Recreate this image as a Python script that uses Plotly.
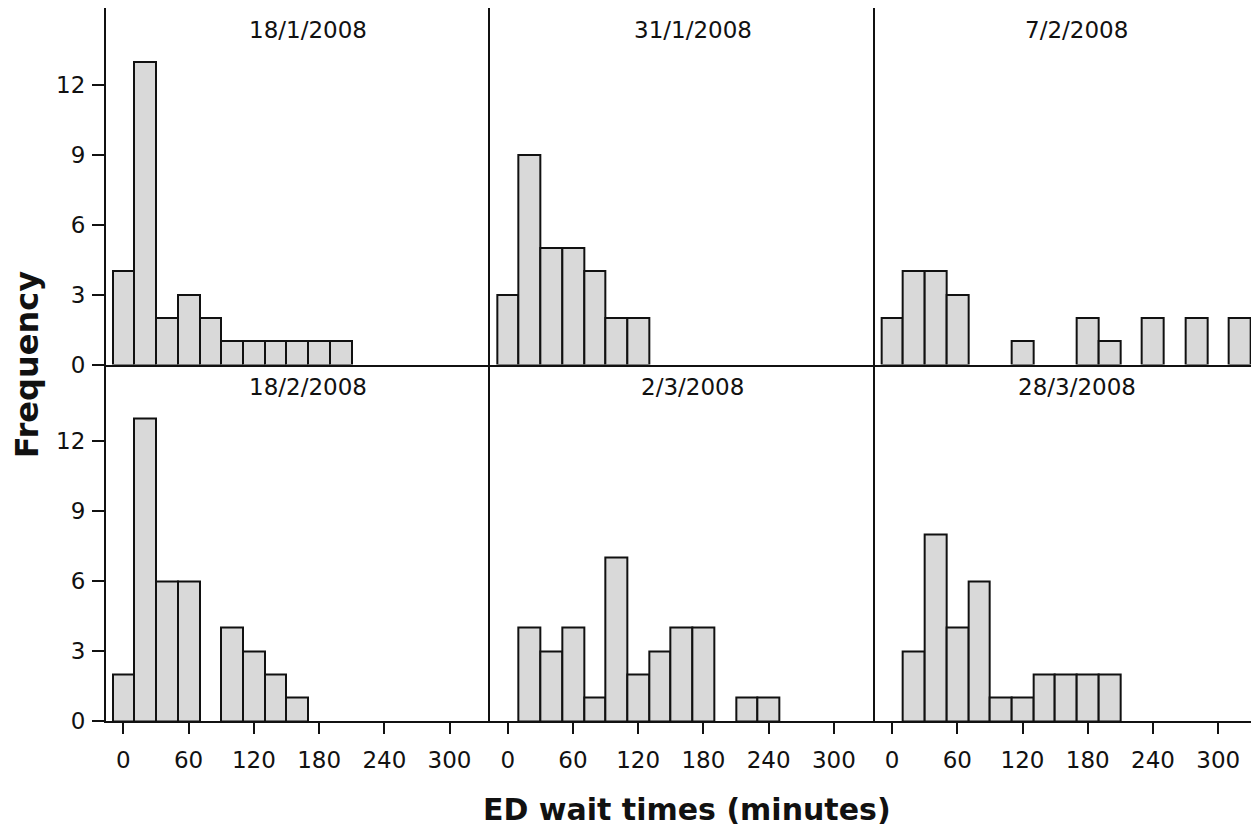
import plotly.graph_objects as go
from plotly.subplots import make_subplots

# ---- data (bin centres in minutes, frequencies) ----
dates = ["18/1/2008", "31/1/2008", "7/2/2008", "18/2/2008", "2/3/2008", "28/3/2008"]

bins_18_1 = [0, 20, 40, 60, 80, 100, 120, 140, 160, 180, 200]
freq_18_1 = [4, 13, 2, 3, 2, 1, 1, 1, 1, 1, 1]

bins_31_1 = [0, 20, 40, 60, 80, 100, 120]
freq_31_1 = [3, 9, 5, 5, 4, 2, 2]

bins_7_2 = [0, 20, 40, 60, 120, 180, 200, 240, 280, 320]
freq_7_2 = [2, 4, 4, 3, 1, 2, 1, 2, 2, 2]

bins_18_2 = [0, 20, 40, 60, 100, 120, 140, 160]
freq_18_2 = [2, 13, 6, 6, 4, 3, 2, 1]

bins_2_3 = [20, 40, 60, 80, 100, 120, 140, 160, 180, 220, 240]
freq_2_3 = [4, 3, 4, 1, 7, 2, 3, 4, 4, 1, 1]

bins_28_3 = [20, 40, 60, 80, 100, 120, 140, 160, 180, 200]
freq_28_3 = [3, 8, 4, 6, 1, 1, 2, 2, 2, 2]

bin_width = 20
x_ticks = [0, 60, 120, 180, 240, 300]
y_ticks = [0, 3, 6, 9, 12]

panels = [
    (bins_18_1, freq_18_1), (bins_31_1, freq_31_1), (bins_7_2, freq_7_2),
    (bins_18_2, freq_18_2), (bins_2_3, freq_2_3), (bins_28_3, freq_28_3),
]

FONT = "DejaVu Sans"
INK = "#111111"

fig = make_subplots(rows=2, cols=3, horizontal_spacing=0, vertical_spacing=0)

for i, (bx, fy) in enumerate(panels):
    r, c = i // 3 + 1, i % 3 + 1
    fig.add_trace(
        go.Bar(x=bx, y=fy, width=bin_width,
               marker=dict(color="#d9d9d9", line=dict(color=INK, width=2)),
               showlegend=False, hoverinfo="x+y"),
        row=r, col=c)
    fig.add_annotation(
        text=dates[i], x=170, y=1, xref=f"x{i+1 if i else ''}",
        yref=f"y{i+1 if i else ''} domain", xanchor="center", yanchor="middle",
        yshift=-22, showarrow=False, font=dict(family=FONT, size=23, color=INK))

for r in (1, 2):
    for c in (1, 2, 3):
        xa = dict(range=[-16, 337.5], showgrid=False, zeroline=False,
                  showline=True, linecolor=INK, linewidth=2,
                  tickvals=x_ticks, fixedrange=True)
        if r == 2:
            xa.update(ticks="outside", ticklen=11, tickwidth=2, tickcolor=INK,
                      showticklabels=True, ticklabelstandoff=6,
                      tickfont=dict(family=FONT, size=23, color=INK))
        else:
            xa.update(ticks="", showticklabels=False)
        fig.update_xaxes(row=r, col=c, **xa)

        ya = dict(range=[0, 15.3], showgrid=False, zeroline=False,
                  showline=True, linecolor=INK, linewidth=2,
                  tickvals=y_ticks, fixedrange=True)
        if c == 1:
            ya.update(ticks="outside", ticklen=12, tickwidth=2, tickcolor=INK,
                      showticklabels=True, ticklabelstandoff=2,
                      tickfont=dict(family=FONT, size=23, color=INK))
        else:
            ya.update(ticks="", showticklabels=False)
        fig.update_yaxes(row=r, col=c, **ya)

fig.add_annotation(text="<b>Frequency</b>", xref="paper", yref="paper",
                   x=-0.0685, y=0.499, textangle=-90, showarrow=False,
                   xanchor="center", yanchor="middle",
                   font=dict(family=FONT, size=32, color=INK))
fig.add_annotation(text="<b>ED wait times (minutes)</b>", xref="paper", yref="paper",
                   x=0.504, y=-0.1248, showarrow=False,
                   xanchor="center", yanchor="middle",
                   font=dict(family=FONT, size=30, color=INK))

# page body has an 8px margin, so the figure is shrunk and shifted to compensate
fig.update_layout(
    width=1251, height=825,
    margin=dict(l=98, r=0, t=0, b=112),
    paper_bgcolor="white", plot_bgcolor="white",
    bargap=0,
)

fig.write_html("out.html")
